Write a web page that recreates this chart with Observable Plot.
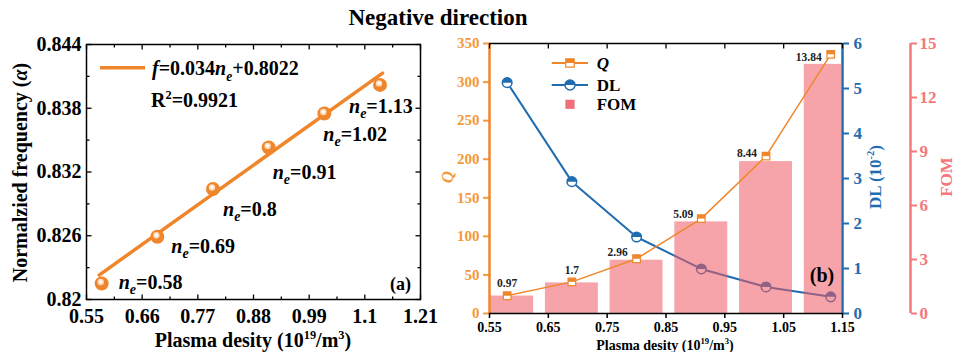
<!DOCTYPE html>
<html><head><meta charset="utf-8">
<script src="https://cdn.jsdelivr.net/npm/d3@7"></script>
<script src="https://cdn.jsdelivr.net/npm/@observablehq/plot@0.6"></script>
<style>
body{margin:0;background:#fff;}
#fig{position:relative;width:958px;height:352px;overflow:hidden;font-family:"Liberation Serif","Times New Roman",serif;font-weight:bold;}
#title{position:absolute;left:0;width:876px;top:5px;text-align:center;font-size:23px;line-height:26px;}
#fig svg, #fig svg g, #fig svg text, #fig svg tspan{font-family:"Liberation Serif","Times New Roman",serif !important;font-weight:bold !important;font-variant:normal !important;}
</style></head><body><div id="fig"><div id="title">Negative direction</div></div>
<script>
// ---------- data: panel (a) ----------
const densityA = [0.58, 0.69, 0.80, 0.91, 1.02, 1.13];
const freqA = [0.8215, 0.8259, 0.8304, 0.8343, 0.8375, 0.8402];
const fitX = [0.575, 1.135];
const fitY = [0.8223, 0.8413];
const neLabels = ["0.58", "0.69", "0.8", "0.91", "1.02", "1.13"];
const xTicksA = [0.55, 0.66, 0.77, 0.88, 0.99, 1.1, 1.21];
const xTickLabelsA = ["0.55", "0.66", "0.77", "0.88", "0.99", "1.1", "1.21"];
const xMinorA = [0.605, 0.715, 0.825, 0.935, 1.045, 1.155];
const yTicksA = [0.82, 0.826, 0.832, 0.838, 0.844];
const yTickLabelsA = ["0.82", "0.826", "0.832", "0.838", "0.844"];
const yMinorA = [0.823, 0.829, 0.835, 0.841];

// ---------- data: panel (b) ----------
const densityB = [0.58, 0.69, 0.80, 0.91, 1.02, 1.13];
const qValues = [23, 41, 71, 123, 204, 336];
const dlValues = [5.13, 2.93, 1.70, 0.99, 0.59, 0.37];
const fomValues = [0.97, 1.7, 2.96, 5.09, 8.44, 13.84];
const fomLabels = ["0.97", "1.7", "2.96", "5.09", "8.44", "13.84"];
const xTicksB = [0.55, 0.65, 0.75, 0.85, 0.95, 1.05, 1.15];
const xTickLabelsB = ["0.55", "0.65", "0.75", "0.85", "0.95", "1.05", "1.15"];
const qTicks = [0, 50, 100, 150, 200, 250, 300, 350];
const dlTicks = [0, 1, 2, 3, 4, 5, 6];
const fomTicks = [0, 3, 6, 9, 12, 15];

// ---------- styling ----------
const ORANGE = "#F0862B", QLAB = "#F39A3C", BLUE = "#1F6DB1", PINK = "#F2787C";
const LABEL_KEY = "#010101";
const FONT = '"Liberation Serif","Times New Roman",serif';
const neOffsets = [[17, -1], [14, 10], [10, 21], [4, 25], [-1, 21], [-31, 22]];
const fomOffsets = [[0, -13], [0, -13], [-19, -8], [-18, -8], [-19, -8], [-22, -7]];
const barHalf = 0.045;

const baseStyle = (left, fs, color) =>
  `position:absolute;left:${left}px;top:0px;background:transparent;overflow:visible;font-family:${FONT};font-weight:bold;font-size:${fs}px;color:${color};`;
function finalize(svg, left, fs, color) {
  svg.setAttribute("style", baseStyle(left, fs, color));
  svg.setAttribute("font-family", FONT);
  svg.setAttribute("font-size", fs);
  svg.querySelectorAll("[font-family]").forEach(e => e.setAttribute("font-family", FONT));
  svg.querySelectorAll("text").forEach(t => { if (!t.getAttribute("font-size")) t.style.fontSize = fs + "px"; });
}

const tick = (dx, dy) => ({draw(c, s) { const l = Math.sqrt(s / Math.PI); c.moveTo(0, 0); c.lineTo(dx * l, dy * l); }});
const tUp = tick(0, -1), tDown = tick(0, 1), tLeft = tick(-1, 0), tRight = tick(1, 0);
const halfCircle = {draw(c, s) { const r = Math.sqrt(s / Math.PI); c.moveTo(-r, 0); c.arc(0, 0, r, Math.PI, 2 * Math.PI); c.closePath(); }};
const fullSquare = {draw(c, s) { const r = Math.sqrt(s / Math.PI); c.rect(-r, -r, 2 * r, 2 * r); }};
const halfSquare = {draw(c, s) { const r = Math.sqrt(s / Math.PI); c.rect(-r, -r, 2 * r, r); }};
const tickMark = (data, xf, yf, sym, r) => Plot.dot(data, {x: xf, y: yf, symbol: sym, r, fill: "none", stroke: "black", strokeWidth: 1.3});

// rich text helper
function rich(svg, x, y, parts, o = {}) {
  const size = o.size || 20;
  const g = d3.select(svg).append("g");
  const t = g.append("text")
    .attr("font-weight", "bold").attr("font-family", FONT).style("font-size", size + "px")
    .attr("fill", o.fill || "black").attr("text-anchor", o.anchor || "start");
  if (o.rotate) { g.attr("transform", `translate(${x + 0.35 * size},${y}) rotate(-90)`); t.attr("x", 0).attr("y", 0); }
  else { t.attr("x", x).attr("y", y + 0.35 * size); }
  let shift = 0;
  for (const p of parts) {
    const seg = typeof p === "string" ? {t: p} : p;
    const ts = t.append("tspan").text(seg.t);
    if (seg.i) ts.attr("font-style", "italic");
    let target = 0;
    if (seg.s === "sub") { ts.style("font-size", (size * 0.68) + "px"); target = 0.28 * size; }
    if (seg.s === "sup") { ts.style("font-size", (size * 0.62) + "px"); target = -0.4 * size; }
    if (target !== shift) { ts.attr("dy", target - shift); shift = target; }
  }
  return t;
}
function thickTicks(svg, w) {
  svg.querySelectorAll('[aria-label*="axis"] path, [aria-label*="axis"] line').forEach(e => e.setAttribute("stroke-width", w));
}

const fig = document.getElementById("fig");

// ================= Panel (a) =================
const ptsA = densityA.map((x, i) => ({x, y: freqA[i], lab: neLabels[i]}));
const fitRows = fitX.map((x, i) => ({x, y: fitY[i]}));
const plotA = Plot.plot({
  width: 440, height: 352, marginLeft: 86, marginRight: 20, marginTop: 44, marginBottom: 53,
  x: {domain: [0.55, 1.21], ticks: xTicksA, tickFormat: d => xTickLabelsA[xTicksA.indexOf(d)], tickSize: 0, tickPadding: 9, label: null},
  y: {domain: [0.82, 0.844], ticks: yTicksA, tickFormat: d => yTickLabelsA[yTicksA.indexOf(d)], tickSize: 0, tickPadding: 5, label: null},
  marks: [
    tickMark(xTicksA, d => d, () => 0.82, tUp, 5),
    tickMark(xMinorA, d => d, () => 0.82, tUp, 3),
    tickMark(xTicksA, d => d, () => 0.844, tDown, 5),
    tickMark(xMinorA, d => d, () => 0.844, tDown, 3),
    tickMark(yTicksA, () => 0.55, d => d, tRight, 5),
    tickMark(yMinorA, () => 0.55, d => d, tRight, 3),
    tickMark(yTicksA, () => 1.21, d => d, tLeft, 5),
    tickMark(yMinorA, () => 1.21, d => d, tLeft, 3),
    Plot.frame({stroke: "black", strokeWidth: 1.5}),
    Plot.line(fitRows, {x: "x", y: "y", stroke: ORANGE, strokeWidth: 3.5}),
    Plot.dot(ptsA, {x: "x", y: "y", r: 7, fill: ORANGE, stroke: "none"}),
    Plot.dot(ptsA, {x: "x", y: "y", r: 3.2, dx: -1, dy: -1.5, fill: "#FFE9D2", fillOpacity: 0.85, stroke: "none"}),
    Plot.dot(ptsA, {x: "x", y: "y", r: 1.6, dx: -1, dy: -1.8, fill: "white", stroke: "none"}),
    ...ptsA.map((p, i) => Plot.text([p], {x: "x", y: "y", text: d => "ne=" + d.lab, dx: neOffsets[i][0], dy: neOffsets[i][1],
      textAnchor: "start", fill: LABEL_KEY}))
  ]
});
fig.appendChild(plotA);
finalize(plotA, 0, 20, "black");
{
  const s = d3.select(plotA);
  s.selectAll("[fill]").filter(function () { return (this.getAttribute("fill") || "").toLowerCase() === LABEL_KEY; })
    .each(function () {
      const texts = this.tagName.toLowerCase() === "text" ? [this] : Array.from(this.querySelectorAll("text"));
      d3.select(this).attr("fill", "black");
      texts.forEach(el => {
        const val = el.textContent.slice(3);
        const t = d3.select(el); t.text("").attr("fill", "black");
        t.append("tspan").attr("font-style", "italic").text("n");
        t.append("tspan").attr("font-style", "italic").style("font-size", "14px").attr("dy", 5).text("e");
        t.append("tspan").attr("dy", -5).text("=" + val);
      });
    });
  rich(plotA, 20, 172.5, ["Normalzied frequency (", {t: "α", i: 1}, ")"], {size: 20, anchor: "middle", rotate: true});
  rich(plotA, 253, 340, ["Plasma desity (10", {t: "19", s: "sup"}, "/m", {t: "3", s: "sup"}, ")"], {size: 20, anchor: "middle"});
  s.append("line").attr("x1", 100).attr("x2", 145).attr("y1", 67.7).attr("y2", 67.7).attr("stroke", ORANGE).attr("stroke-width", 3.5);
  rich(plotA, 152, 68, [{t: "f", i: 1}, "=0.034", {t: "n", i: 1}, {t: "e", i: 1, s: "sub"}, "+0.8022"], {size: 20});
  rich(plotA, 151, 100, ["R", {t: "2", s: "sup"}, "=0.9921"], {size: 20});
  rich(plotA, 411, 284, ["(a)"], {size: 18, anchor: "end"});
}

// ================= Panel (b) =================
const rowsB = densityB.map((x, i) => ({x, q: qValues[i], dl: dlValues[i], fom: fomValues[i], lab: fomLabels[i]}));
const common = {width: 518, height: 352, marginLeft: 49, marginRight: 116, marginTop: 43, marginBottom: 39};

const plotDL = Plot.plot({...common,
  x: {domain: [0.55, 1.15], axis: null},
  y: {domain: [0, 6], ticks: dlTicks, tickFormat: d => String(d), axis: "right", tickSize: 6, tickPadding: 5, label: null},
  marks: [
    Plot.ruleX([1.15], {stroke: BLUE, strokeWidth: 2.5}),
    Plot.line(rowsB, {x: "x", y: "dl", stroke: BLUE, strokeWidth: 2}),
    Plot.dot(rowsB, {x: "x", y: "dl", r: 4.8, fill: "white", stroke: BLUE, strokeWidth: 1.5}),
    Plot.dot(rowsB, {x: "x", y: "dl", r: 4.8, symbol: halfCircle, fill: BLUE, stroke: "none"})
  ]});
fig.appendChild(plotDL); finalize(plotDL, 440, 17, BLUE); thickTicks(plotDL, 2);

const plotFOM = Plot.plot({...common,
  x: {domain: [0.55, 1.15], axis: null},
  y: {domain: [0, 15], axis: null},
  marks: [
    Plot.rect(rowsB, {x1: d => d.x - barHalf, x2: d => d.x + barHalf, y1: d => 0, y2: d => d.fom,
      fill: "#EE5A62", fillOpacity: 0.55, clip: true}),
    ...rowsB.map((r, i) => Plot.text([r], {x: "x", y: "fom", text: "lab", dx: fomOffsets[i][0], dy: fomOffsets[i][1], fill: "#222"}))
  ]});
fig.appendChild(plotFOM); finalize(plotFOM, 440, 11.5, "#222");

const plotQ = Plot.plot({...common,
  x: {domain: [0.55, 1.15], axis: null},
  y: {domain: [0, 350], ticks: qTicks, tickFormat: d => String(d), tickSize: 6, tickPadding: 4, label: null},
  marks: [
    Plot.ruleX([0.55], {stroke: ORANGE, strokeWidth: 2.5}),
    Plot.line(rowsB, {x: "x", y: "q", stroke: ORANGE, strokeWidth: 1.5}),
    Plot.dot(rowsB, {x: "x", y: "q", r: 3.8, symbol: fullSquare, fill: "white", stroke: ORANGE, strokeWidth: 1.2}),
    Plot.dot(rowsB, {x: "x", y: "q", r: 3.8, symbol: halfSquare, fill: ORANGE, stroke: "none"})
  ]});
fig.appendChild(plotQ); finalize(plotQ, 440, 15, QLAB); thickTicks(plotQ, 2);

const plotX = Plot.plot({...common,
  x: {domain: [0.55, 1.15], ticks: xTicksB, tickFormat: d => xTickLabelsB[xTicksB.indexOf(d)], tickSize: 5, tickPadding: 4, label: null},
  y: {domain: [0, 350], axis: null},
  marks: [
    Plot.ruleY([350], {stroke: "black", strokeWidth: 1.5}),
    Plot.ruleY([0], {stroke: "black", strokeWidth: 1.5}),
    tickMark(xTicksB, d => d, () => 350, tDown, 5)
  ]});
fig.appendChild(plotX); finalize(plotX, 440, 14, "black"); thickTicks(plotX, 1.5);

const plotFA = Plot.plot({width: 518, height: 352, marginLeft: 49, marginRight: 48, marginTop: 43, marginBottom: 39,
  x: {domain: [0, 1], axis: null},
  y: {domain: [0, 15], ticks: fomTicks, tickFormat: d => String(d), axis: "right", tickSize: 6, tickPadding: 3, label: null},
  marks: [Plot.ruleX([1], {stroke: PINK, strokeWidth: 2.5})]});
fig.appendChild(plotFA); finalize(plotFA, 440, 17, PINK); thickTicks(plotFA, 2);

{
  const s = d3.select(plotX);
  rich(plotX, 7, 177, [{t: "Q", i: 1}], {size: 17, anchor: "middle", rotate: true, fill: QLAB});
  rich(plotX, 435, 177, ["DL (10", {t: "-2", s: "sup"}, ")"], {size: 17, anchor: "middle", rotate: true, fill: BLUE});
  rich(plotX, 506.5, 177, ["FOM"], {size: 17, anchor: "middle", rotate: true, fill: PINK});
  rich(plotX, 225, 345, ["Plasma desity (10", {t: "19", s: "sup"}, "/m", {t: "3", s: "sup"}, ")"], {size: 14, anchor: "middle"});
  // legend
  const lx1 = 111.7, lx2 = 148, mx = 130;
  s.append("line").attr("x1", lx1).attr("x2", lx2).attr("y1", 63).attr("y2", 63).attr("stroke", ORANGE).attr("stroke-width", 1.8);
  s.append("path").attr("transform", `translate(${mx},63)`).attr("d", d3.symbol(fullSquare, Math.PI * 4.2 * 4.2)()).attr("fill", "white").attr("stroke", ORANGE).attr("stroke-width", 1.2);
  s.append("path").attr("transform", `translate(${mx},63)`).attr("d", d3.symbol(halfSquare, Math.PI * 4.2 * 4.2)()).attr("fill", ORANGE);
  s.append("line").attr("x1", lx1).attr("x2", lx2).attr("y1", 85).attr("y2", 85).attr("stroke", BLUE).attr("stroke-width", 2);
  s.append("path").attr("transform", `translate(${mx},85)`).attr("d", d3.symbol(d3.symbolCircle, Math.PI * 5 * 5)()).attr("fill", "white").attr("stroke", BLUE).attr("stroke-width", 1.5);
  s.append("path").attr("transform", `translate(${mx},85)`).attr("d", d3.symbol(halfCircle, Math.PI * 5 * 5)()).attr("fill", BLUE);
  s.append("rect").attr("x", mx - 4.6).attr("y", 104.3 - 4.6).attr("width", 9.2).attr("height", 9.2).attr("fill", "#F0707A");
  rich(plotX, 156.7, 63, [{t: "Q", i: 1}], {size: 17});
  rich(plotX, 156.7, 85, ["DL"], {size: 17});
  rich(plotX, 156.7, 104.5, ["FOM"], {size: 17});
  rich(plotX, 382, 275, ["(b)"], {size: 20, anchor: "middle"});
}
</script></body></html>
